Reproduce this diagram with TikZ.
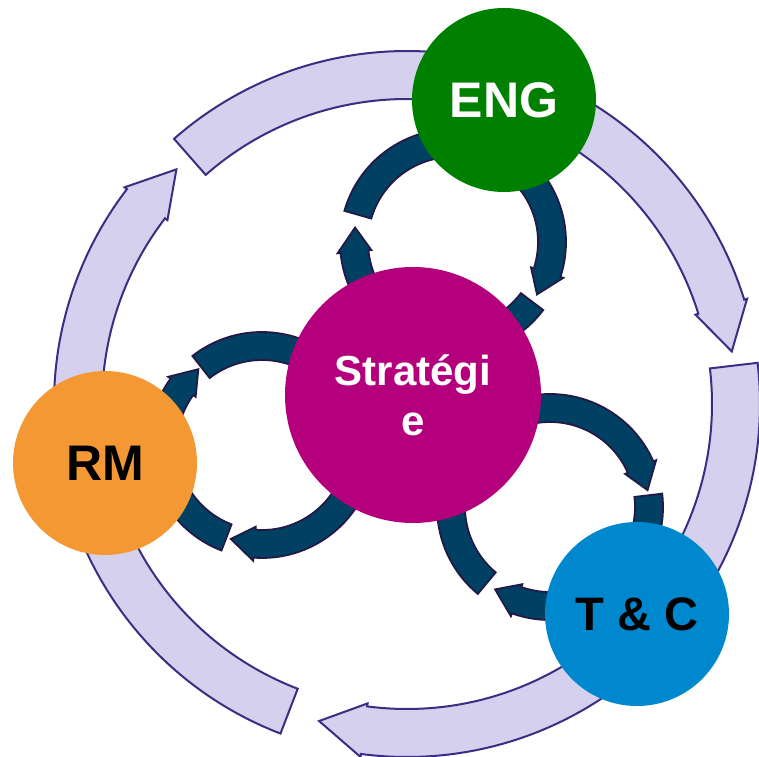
\documentclass[tikz,border=0pt]{standalone}
\usepackage{fontspec}
\setmainfont{Liberation Sans}
\definecolor{engGreen}{RGB}{0,128,0}
\definecolor{stratPink}{RGB}{180,0,124}
\definecolor{rmOrange}{RGB}{243,152,50}
\definecolor{tcBlue}{RGB}{0,136,206}
\definecolor{ringFill}{RGB}{213,208,237}
\definecolor{ringLine}{RGB}{60,45,130}
\definecolor{loopFill}{RGB}{0,64,98}
\definecolor{loopLine}{RGB}{35,25,70}
% circular arrow: style, centre, inner r, outer r, start angle, tip angle, head angle
\newcommand{\cyclearrow}[7]{%
  \draw[#1, shift={(#2)}] (#5:#4) arc[start angle=#5, end angle={#6+#7}, radius=#4]
    -- ({#6+#7}:{#4+3}) -- (#6:{(#3+#4)/2}) -- ({#6+#7}:{#3-3})
    -- ({#6+#7}:#3) arc[start angle={#6+#7}, end angle=#5, radius=#3] -- cycle;}
\begin{document}
\begin{tikzpicture}[x=1pt,y=1pt]
	\tikzset{ring/.style={fill=ringFill,draw=ringLine,line width=2pt,line join=miter},
		loop/.style={fill=loopFill,draw=loopLine,line width=1.8pt,line join=miter},
		bubble/.style={circle,minimum size=184pt,inner sep=0pt,font=\fontsize{50}{60}\selectfont\bfseries},
		hub/.style={circle,minimum size=256pt,inner sep=0pt,align=center,text=white,font=\fontsize{42}{50}\selectfont\bfseries}}
	\useasboundingbox (0,0) rectangle (759,756);

	% centres of the rings
	\coordinate (outerC) at (407,352);
	\coordinate (engC) at (453,514);
	\coordinate (rmC) at (262,311);
	\coordinate (tcC) at (550,249);

	% Draw the outer cycle
	\cyclearrow{ring}{outerC}{305}{353}{131.3}{9.2}{8}
	\cyclearrow{ring}{outerC}{305}{353}{6.7}{-105.5}{8}
	\cyclearrow{ring}{outerC}{305}{353}{-111}{-225.5}{8}

	% Draw the small loops
	\cyclearrow{loop}{engC}{85}{113}{164}{-32}{14}
	\cyclearrow{loop}{engC}{85}{113}{-37}{-188.4}{14}
	\cyclearrow{loop}{rmC}{85}{113}{128}{-108.4}{14}
	\cyclearrow{loop}{rmC}{85}{113}{-111}{-230}{14}
	\cyclearrow{loop}{tcC}{85}{113}{230.3}{9.8}{14}
	\cyclearrow{loop}{tcC}{85}{113}{6.8}{-123.7}{14}

	% the circles
	\node[hub,fill=stratPink] (strat) at (413,361) {Stratégi\\e};
	\node[bubble,fill=engGreen,text=white] (eng) at (504,656) {ENG};
	\node[bubble,fill=rmOrange] (rm) at (105,293) {RM};
	\node[bubble,fill=tcBlue,font=\fontsize{47}{56}\selectfont\bfseries] (tc) at (637,142) {T \& C};

\end{tikzpicture}
\end{document}
